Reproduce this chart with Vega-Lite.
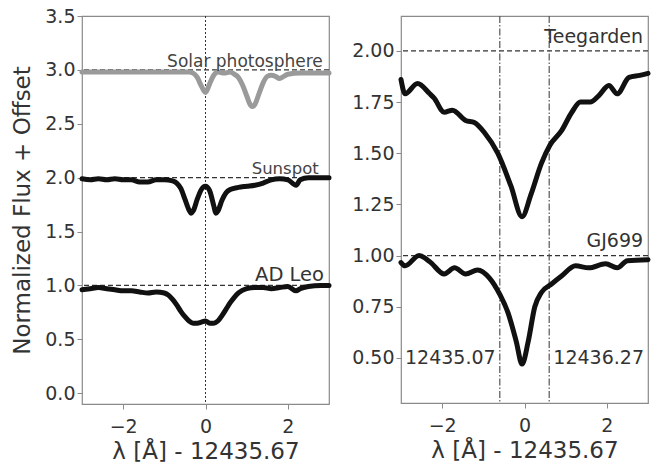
{
  "$schema": "https://vega.github.io/schema/vega-lite/v6.json",
  "padding": {"left": 11, "top": 6, "right": 10, "bottom": 4},
  "spacing": 18,
  "background": "white",
  "datasets": {
    "leftSpectra": [
      {"s": "Solar photosphere", "x": -3.0, "y": 2.98},
      {"s": "Solar photosphere", "x": -2.0, "y": 2.98},
      {"s": "Solar photosphere", "x": -1.0, "y": 2.98},
      {"s": "Solar photosphere", "x": -0.4, "y": 2.98},
      {"s": "Solar photosphere", "x": -0.3, "y": 2.97},
      {"s": "Solar photosphere", "x": -0.2, "y": 2.93},
      {"s": "Solar photosphere", "x": -0.1, "y": 2.85},
      {"s": "Solar photosphere", "x": 0.0, "y": 2.79},
      {"s": "Solar photosphere", "x": 0.1, "y": 2.87},
      {"s": "Solar photosphere", "x": 0.2, "y": 2.95},
      {"s": "Solar photosphere", "x": 0.3, "y": 2.98},
      {"s": "Solar photosphere", "x": 0.45, "y": 2.97},
      {"s": "Solar photosphere", "x": 0.6, "y": 2.98},
      {"s": "Solar photosphere", "x": 0.7, "y": 2.96},
      {"s": "Solar photosphere", "x": 0.8, "y": 2.93},
      {"s": "Solar photosphere", "x": 0.9, "y": 2.86},
      {"s": "Solar photosphere", "x": 1.0, "y": 2.76},
      {"s": "Solar photosphere", "x": 1.1, "y": 2.67},
      {"s": "Solar photosphere", "x": 1.15, "y": 2.66},
      {"s": "Solar photosphere", "x": 1.2, "y": 2.68},
      {"s": "Solar photosphere", "x": 1.3, "y": 2.78},
      {"s": "Solar photosphere", "x": 1.4, "y": 2.88},
      {"s": "Solar photosphere", "x": 1.5, "y": 2.94},
      {"s": "Solar photosphere", "x": 1.6, "y": 2.95},
      {"s": "Solar photosphere", "x": 1.7, "y": 2.94},
      {"s": "Solar photosphere", "x": 1.8, "y": 2.92},
      {"s": "Solar photosphere", "x": 1.9, "y": 2.94},
      {"s": "Solar photosphere", "x": 2.0, "y": 2.96},
      {"s": "Solar photosphere", "x": 2.3, "y": 2.97},
      {"s": "Solar photosphere", "x": 3.0, "y": 2.97},
      {"s": "Sunspot", "x": -3.0, "y": 1.99},
      {"s": "Sunspot", "x": -2.8, "y": 1.98},
      {"s": "Sunspot", "x": -2.6, "y": 1.99},
      {"s": "Sunspot", "x": -2.4, "y": 1.98},
      {"s": "Sunspot", "x": -2.2, "y": 1.99},
      {"s": "Sunspot", "x": -2.0, "y": 1.98},
      {"s": "Sunspot", "x": -1.8, "y": 1.98},
      {"s": "Sunspot", "x": -1.6, "y": 1.96},
      {"s": "Sunspot", "x": -1.4, "y": 1.96},
      {"s": "Sunspot", "x": -1.2, "y": 1.98},
      {"s": "Sunspot", "x": -1.0, "y": 1.98},
      {"s": "Sunspot", "x": -0.8, "y": 1.97},
      {"s": "Sunspot", "x": -0.7, "y": 1.95},
      {"s": "Sunspot", "x": -0.6, "y": 1.9},
      {"s": "Sunspot", "x": -0.5, "y": 1.8},
      {"s": "Sunspot", "x": -0.4, "y": 1.7},
      {"s": "Sunspot", "x": -0.35, "y": 1.67},
      {"s": "Sunspot", "x": -0.3, "y": 1.69},
      {"s": "Sunspot", "x": -0.2, "y": 1.8},
      {"s": "Sunspot", "x": -0.1, "y": 1.89},
      {"s": "Sunspot", "x": 0.0, "y": 1.92},
      {"s": "Sunspot", "x": 0.1, "y": 1.88},
      {"s": "Sunspot", "x": 0.2, "y": 1.74},
      {"s": "Sunspot", "x": 0.25, "y": 1.67},
      {"s": "Sunspot", "x": 0.3, "y": 1.69},
      {"s": "Sunspot", "x": 0.4, "y": 1.79},
      {"s": "Sunspot", "x": 0.5, "y": 1.86},
      {"s": "Sunspot", "x": 0.6, "y": 1.89},
      {"s": "Sunspot", "x": 0.8, "y": 1.91},
      {"s": "Sunspot", "x": 1.0, "y": 1.92},
      {"s": "Sunspot", "x": 1.2, "y": 1.93},
      {"s": "Sunspot", "x": 1.4, "y": 1.95},
      {"s": "Sunspot", "x": 1.6, "y": 1.98},
      {"s": "Sunspot", "x": 1.8, "y": 1.99},
      {"s": "Sunspot", "x": 2.0, "y": 1.98},
      {"s": "Sunspot", "x": 2.2, "y": 1.93},
      {"s": "Sunspot", "x": 2.3, "y": 1.98},
      {"s": "Sunspot", "x": 2.5, "y": 2.0},
      {"s": "Sunspot", "x": 2.8, "y": 2.0},
      {"s": "Sunspot", "x": 3.0, "y": 2.0},
      {"s": "AD Leo", "x": -3.0, "y": 0.96},
      {"s": "AD Leo", "x": -2.8, "y": 0.97},
      {"s": "AD Leo", "x": -2.6, "y": 0.98},
      {"s": "AD Leo", "x": -2.4, "y": 0.97},
      {"s": "AD Leo", "x": -2.2, "y": 0.96},
      {"s": "AD Leo", "x": -2.0, "y": 0.95},
      {"s": "AD Leo", "x": -1.8, "y": 0.95},
      {"s": "AD Leo", "x": -1.6, "y": 0.94},
      {"s": "AD Leo", "x": -1.4, "y": 0.93},
      {"s": "AD Leo", "x": -1.2, "y": 0.94},
      {"s": "AD Leo", "x": -1.0, "y": 0.93},
      {"s": "AD Leo", "x": -0.9, "y": 0.91},
      {"s": "AD Leo", "x": -0.8, "y": 0.87},
      {"s": "AD Leo", "x": -0.7, "y": 0.82},
      {"s": "AD Leo", "x": -0.6, "y": 0.76},
      {"s": "AD Leo", "x": -0.5, "y": 0.71},
      {"s": "AD Leo", "x": -0.4, "y": 0.67},
      {"s": "AD Leo", "x": -0.3, "y": 0.65},
      {"s": "AD Leo", "x": -0.2, "y": 0.65},
      {"s": "AD Leo", "x": -0.1, "y": 0.66},
      {"s": "AD Leo", "x": 0.0, "y": 0.67},
      {"s": "AD Leo", "x": 0.1, "y": 0.65},
      {"s": "AD Leo", "x": 0.2, "y": 0.65},
      {"s": "AD Leo", "x": 0.3, "y": 0.67},
      {"s": "AD Leo", "x": 0.4, "y": 0.72},
      {"s": "AD Leo", "x": 0.5, "y": 0.78},
      {"s": "AD Leo", "x": 0.6, "y": 0.84},
      {"s": "AD Leo", "x": 0.7, "y": 0.89},
      {"s": "AD Leo", "x": 0.8, "y": 0.93},
      {"s": "AD Leo", "x": 1.0, "y": 0.97},
      {"s": "AD Leo", "x": 1.2, "y": 0.98},
      {"s": "AD Leo", "x": 1.4, "y": 0.98},
      {"s": "AD Leo", "x": 1.6, "y": 0.97},
      {"s": "AD Leo", "x": 1.8, "y": 0.98},
      {"s": "AD Leo", "x": 2.0, "y": 0.99},
      {"s": "AD Leo", "x": 2.2, "y": 0.95},
      {"s": "AD Leo", "x": 2.3, "y": 0.97},
      {"s": "AD Leo", "x": 2.5, "y": 0.99},
      {"s": "AD Leo", "x": 2.8, "y": 1.0},
      {"s": "AD Leo", "x": 3.0, "y": 1.0}
    ],
    "rightSpectra": [
      {"s": "Teegarden", "x": -3.0, "y": 1.86},
      {"s": "Teegarden", "x": -2.9, "y": 1.79},
      {"s": "Teegarden", "x": -2.6, "y": 1.84},
      {"s": "Teegarden", "x": -2.3, "y": 1.79},
      {"s": "Teegarden", "x": -2.2, "y": 1.77},
      {"s": "Teegarden", "x": -1.95, "y": 1.7},
      {"s": "Teegarden", "x": -1.75, "y": 1.71},
      {"s": "Teegarden", "x": -1.43, "y": 1.66},
      {"s": "Teegarden", "x": -1.22, "y": 1.65},
      {"s": "Teegarden", "x": -0.97, "y": 1.6},
      {"s": "Teegarden", "x": -0.65, "y": 1.5},
      {"s": "Teegarden", "x": -0.33, "y": 1.34},
      {"s": "Teegarden", "x": -0.06, "y": 1.19},
      {"s": "Teegarden", "x": 0.16, "y": 1.3},
      {"s": "Teegarden", "x": 0.41, "y": 1.45},
      {"s": "Teegarden", "x": 0.62, "y": 1.54},
      {"s": "Teegarden", "x": 0.9, "y": 1.61},
      {"s": "Teegarden", "x": 1.15, "y": 1.7},
      {"s": "Teegarden", "x": 1.36, "y": 1.75},
      {"s": "Teegarden", "x": 1.6, "y": 1.75},
      {"s": "Teegarden", "x": 1.8, "y": 1.78},
      {"s": "Teegarden", "x": 2.05, "y": 1.83},
      {"s": "Teegarden", "x": 2.25, "y": 1.79},
      {"s": "Teegarden", "x": 2.54, "y": 1.87},
      {"s": "Teegarden", "x": 2.8, "y": 1.88},
      {"s": "Teegarden", "x": 3.0, "y": 1.89},
      {"s": "GJ699", "x": -3.0, "y": 0.966},
      {"s": "GJ699", "x": -2.9, "y": 0.95},
      {"s": "GJ699", "x": -2.56, "y": 1.0},
      {"s": "GJ699", "x": -2.3, "y": 0.97},
      {"s": "GJ699", "x": -1.95, "y": 0.91},
      {"s": "GJ699", "x": -1.7, "y": 0.94},
      {"s": "GJ699", "x": -1.43, "y": 0.91},
      {"s": "GJ699", "x": -1.14, "y": 0.93},
      {"s": "GJ699", "x": -0.85, "y": 0.89},
      {"s": "GJ699", "x": -0.6, "y": 0.81},
      {"s": "GJ699", "x": -0.4, "y": 0.72},
      {"s": "GJ699", "x": -0.2, "y": 0.58},
      {"s": "GJ699", "x": -0.06, "y": 0.47},
      {"s": "GJ699", "x": 0.09, "y": 0.58},
      {"s": "GJ699", "x": 0.25, "y": 0.75},
      {"s": "GJ699", "x": 0.41, "y": 0.82},
      {"s": "GJ699", "x": 0.65, "y": 0.86},
      {"s": "GJ699", "x": 0.9, "y": 0.9},
      {"s": "GJ699", "x": 1.24, "y": 0.95},
      {"s": "GJ699", "x": 1.56, "y": 0.94},
      {"s": "GJ699", "x": 1.97, "y": 0.96},
      {"s": "GJ699", "x": 2.25, "y": 0.94},
      {"s": "GJ699", "x": 2.5, "y": 0.975},
      {"s": "GJ699", "x": 3.0, "y": 0.98}
    ],
    "leftRefs": [{"y": 3}, {"y": 2}, {"y": 1}],
    "leftCenter": [{"x": 0}],
    "rightRefs": [{"y": 2}, {"y": 1}],
    "rightCenters": [{"x": -0.6}, {"x": 0.6}],
    "leftLabels": [
      {"label": "Solar photosphere", "x": 2.85, "y": 3.03},
      {"label": "Sunspot", "x": 2.75, "y": 2.03},
      {"label": "AD Leo", "x": 2.88, "y": 1.04}
    ],
    "rightLabelsR": [
      {"label": "Teegarden", "x": 2.88, "y": 2.04},
      {"label": "GJ699", "x": 2.88, "y": 1.04},
      {"label": "12435.07", "x": -0.7, "y": 0.47}
    ],
    "rightLabelsL": [
      {"label": "12436.27", "x": 0.7, "y": 0.47}
    ]
  },
  "config": {
    "font": "DejaVu Sans",
    "view": {"stroke": "#8a8a8a", "strokeWidth": 1.2},
    "axis": {
      "grid": false,
      "domain": false,
      "ticks": true,
      "tickSize": 5,
      "tickColor": "#8a8a8a",
      "labelFont": "DejaVu Sans",
      "labelFontSize": 19,
      "labelColor": "#333333",
      "labelPadding": 2,
      "titleFont": "DejaVu Sans",
      "titleFontSize": 23,
      "titleFontWeight": "normal",
      "titleColor": "#333333"
    },
    "axisX": {"labelPadding": 8}
  },
  "hconcat": [
    {
      "width": 247,
      "height": 388,
      "layer": [
        {
          "data": {"name": "leftRefs"},
          "mark": {"type": "rule", "color": "#333333", "strokeWidth": 1.3, "strokeDash": [5, 3]},
          "encoding": {"y": {"field": "y", "type": "quantitative"}}
        },
        {
          "data": {"name": "leftCenter"},
          "mark": {"type": "rule", "color": "#333333", "strokeWidth": 1, "strokeDash": [2, 2]},
          "encoding": {"x": {"field": "x", "type": "quantitative"}}
        },
        {
          "data": {"name": "leftSpectra"},
          "mark": {"type": "line", "strokeWidth": 5, "interpolate": "monotone", "strokeCap": "round", "strokeJoin": "round"},
          "encoding": {
            "x": {
              "field": "x", "type": "quantitative",
              "scale": {"domain": [-3, 3], "nice": false, "zero": false},
              "axis": {"values": [-2, 0, 2], "title": "λ [Å] - 12435.67", "titlePadding": 4}
            },
            "y": {
              "field": "y", "type": "quantitative",
              "scale": {"domain": [-0.1, 3.5], "nice": false, "zero": false},
              "axis": {"values": [0, 0.5, 1, 1.5, 2, 2.5, 3, 3.5], "format": ".1f", "title": "Normalized Flux + Offset", "titlePadding": 10}
            },
            "color": {
              "field": "s", "type": "nominal",
              "scale": {"domain": ["Solar photosphere", "Sunspot", "AD Leo"], "range": ["#9a9a9a", "#111111", "#111111"]},
              "legend": null
            },
            "detail": {"field": "s"}
          }
        },
        {
          "data": {"name": "leftLabels"},
          "transform": [{"filter": "datum.label == 'Solar photosphere'"}],
          "mark": {"type": "text", "align": "right", "baseline": "alphabetic", "fontSize": 17, "color": "#444444"},
          "encoding": {
            "x": {"field": "x", "type": "quantitative"},
            "y": {"field": "y", "type": "quantitative"},
            "text": {"field": "label"}
          }
        },
        {
          "data": {"name": "leftLabels"},
          "transform": [{"filter": "datum.label == 'Sunspot'"}],
          "mark": {"type": "text", "align": "right", "baseline": "alphabetic", "fontSize": 16.5, "color": "#444444"},
          "encoding": {
            "x": {"field": "x", "type": "quantitative"},
            "y": {"field": "y", "type": "quantitative"},
            "text": {"field": "label"}
          }
        },
        {
          "data": {"name": "leftLabels"},
          "transform": [{"filter": "datum.label == 'AD Leo'"}],
          "mark": {"type": "text", "align": "right", "baseline": "alphabetic", "fontSize": 19.5, "color": "#333333"},
          "encoding": {
            "x": {"field": "x", "type": "quantitative"},
            "y": {"field": "y", "type": "quantitative"},
            "text": {"field": "label"}
          }
        }
      ]
    },
    {
      "width": 247,
      "height": 387,
      "layer": [
        {
          "data": {"name": "rightRefs"},
          "mark": {"type": "rule", "color": "#333333", "strokeWidth": 1.3, "strokeDash": [5, 3]},
          "encoding": {"y": {"field": "y", "type": "quantitative"}}
        },
        {
          "data": {"name": "rightCenters"},
          "mark": {"type": "rule", "color": "#555555", "strokeWidth": 1.2, "strokeDash": [7, 2, 1.5, 2]},
          "encoding": {"x": {"field": "x", "type": "quantitative"}}
        },
        {
          "data": {"name": "rightSpectra"},
          "mark": {"type": "line", "strokeWidth": 5, "interpolate": "monotone", "strokeCap": "round", "strokeJoin": "round", "color": "#111111"},
          "encoding": {
            "x": {
              "field": "x", "type": "quantitative",
              "scale": {"domain": [-3, 3], "nice": false, "zero": false},
              "axis": {"values": [-2, 0, 2], "title": "λ [Å] - 12435.67", "titlePadding": 4}
            },
            "y": {
              "field": "y", "type": "quantitative",
              "scale": {"domain": [0.28, 2.17], "nice": false, "zero": false},
              "axis": {"values": [0.5, 0.75, 1, 1.25, 1.5, 1.75, 2], "format": ".2f", "title": null}
            },
            "detail": {"field": "s"}
          }
        },
        {
          "data": {"name": "rightLabelsR"},
          "mark": {"type": "text", "align": "right", "baseline": "alphabetic", "fontSize": 19, "color": "#333333"},
          "encoding": {
            "x": {"field": "x", "type": "quantitative"},
            "y": {"field": "y", "type": "quantitative"},
            "text": {"field": "label"}
          }
        },
        {
          "data": {"name": "rightLabelsL"},
          "mark": {"type": "text", "align": "left", "baseline": "alphabetic", "fontSize": 19, "color": "#333333"},
          "encoding": {
            "x": {"field": "x", "type": "quantitative"},
            "y": {"field": "y", "type": "quantitative"},
            "text": {"field": "label"}
          }
        }
      ]
    }
  ]
}
